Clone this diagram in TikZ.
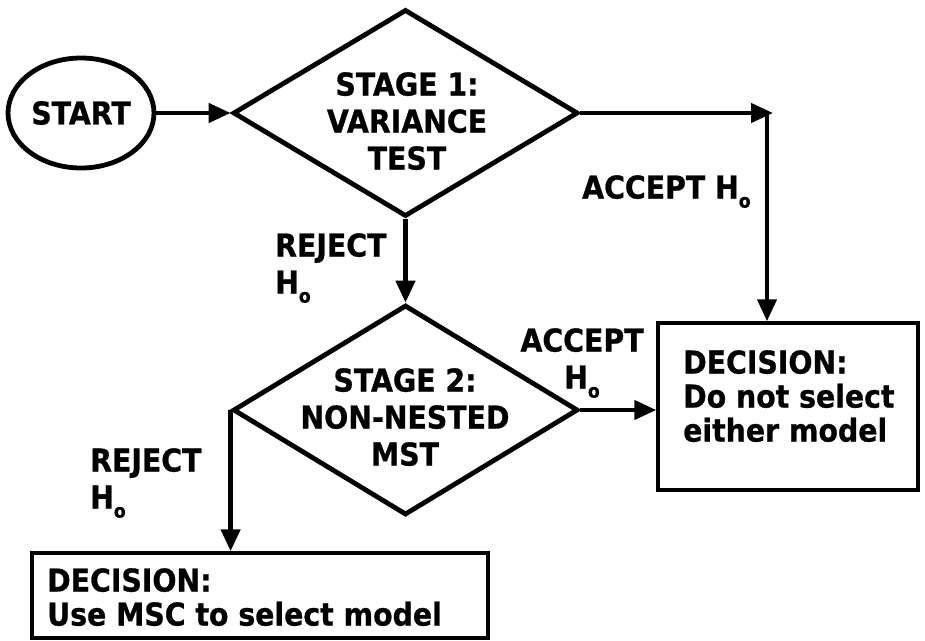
\documentclass[tikz,border=0pt]{standalone}
\usepackage{fontspec}
\usetikzlibrary{shapes.geometric,arrows.meta}
\newfontfamily\lblfont[FakeStretch=0.9, BoldFeatures={FakeBold=0.8}]{DejaVu Sans}
\newcommand\Ho{H\raisebox{-9pt}{\fontsize{19}{19}\selectfont o}}
\tikzset{
  txt/.style={font=\lblfont\bfseries\fontsize{31.5}{37}\selectfont, inner sep=0pt},
  boxtxt/.style={font=\lblfont\bfseries\fontsize{31.5}{34}\selectfont, inner sep=0pt, align=left, anchor=north west},
  shp/.style={draw=black, line width=4.8pt},
  decbox/.style={draw=black, line width=3.5pt, rectangle, inner sep=0pt},
  arr/.style={line width=4.5pt, -{Triangle[length=22pt,width=19pt]}},
}
\begin{document}
\begin{tikzpicture}[x=1pt,y=-1pt]
\useasboundingbox (0,0) rectangle (925,640);
% shapes
\node[shp, ellipse, minimum width=146pt, minimum height=110pt, inner sep=0pt, txt] (start) at (81,113) {START};
\node[shp, diamond, minimum width=345pt, minimum height=207pt, inner sep=0pt] (d1) at (405.5,113) {};
\node[shp, diamond, minimum width=345pt, minimum height=210pt, inner sep=0pt] (d2) at (405.5,410) {};
\node[decbox, minimum width=260pt, minimum height=167pt] (box1) at (788,406.5) {};
\node[decbox, minimum width=456pt, minimum height=85pt] (box2) at (260,595.5) {};
% texts
\node[txt, align=center, anchor=north] (t1) at (407,72) {STAGE 1:\\VARIANCE\\TEST};
\node[txt, align=center, anchor=north] (t2) at (405,368) {STAGE 2:\\NON-NESTED\\MST};
\node[boxtxt] (tb1) at (683,350) {DECISION:\\Do not select\\either model};
\node[boxtxt] (tb2) at (47,568) {DECISION:\\Use MSC to select model};
% labels
\node[txt, anchor=north west] (acc1) at (582,175) {ACCEPT \Ho};
\node[txt, align=left, anchor=north west] (rej1) at (275,233) {REJECT\\\Ho};
\node[txt, align=center, anchor=north] (acc2) at (582,328) {ACCEPT\\\Ho};
\node[txt, align=left, anchor=north west] (rej2) at (90,448) {REJECT\\\Ho};
% connectors
\coordinate (corner) at (767,113);
\draw[arr] (start.east) -- (d1.west);
\draw[arr, shorten >=-6pt] (d1.east) -- (corner);
\draw[arr] (corner) -- (corner |- box1.north);
\draw[arr] (d1.south) -- (d2.north);
\draw[arr] (d2.east) -- (d2.east -| box1.west);
\draw[arr] (d2.west) -- (d2.west |- box2.north);
\end{tikzpicture}
\end{document}
